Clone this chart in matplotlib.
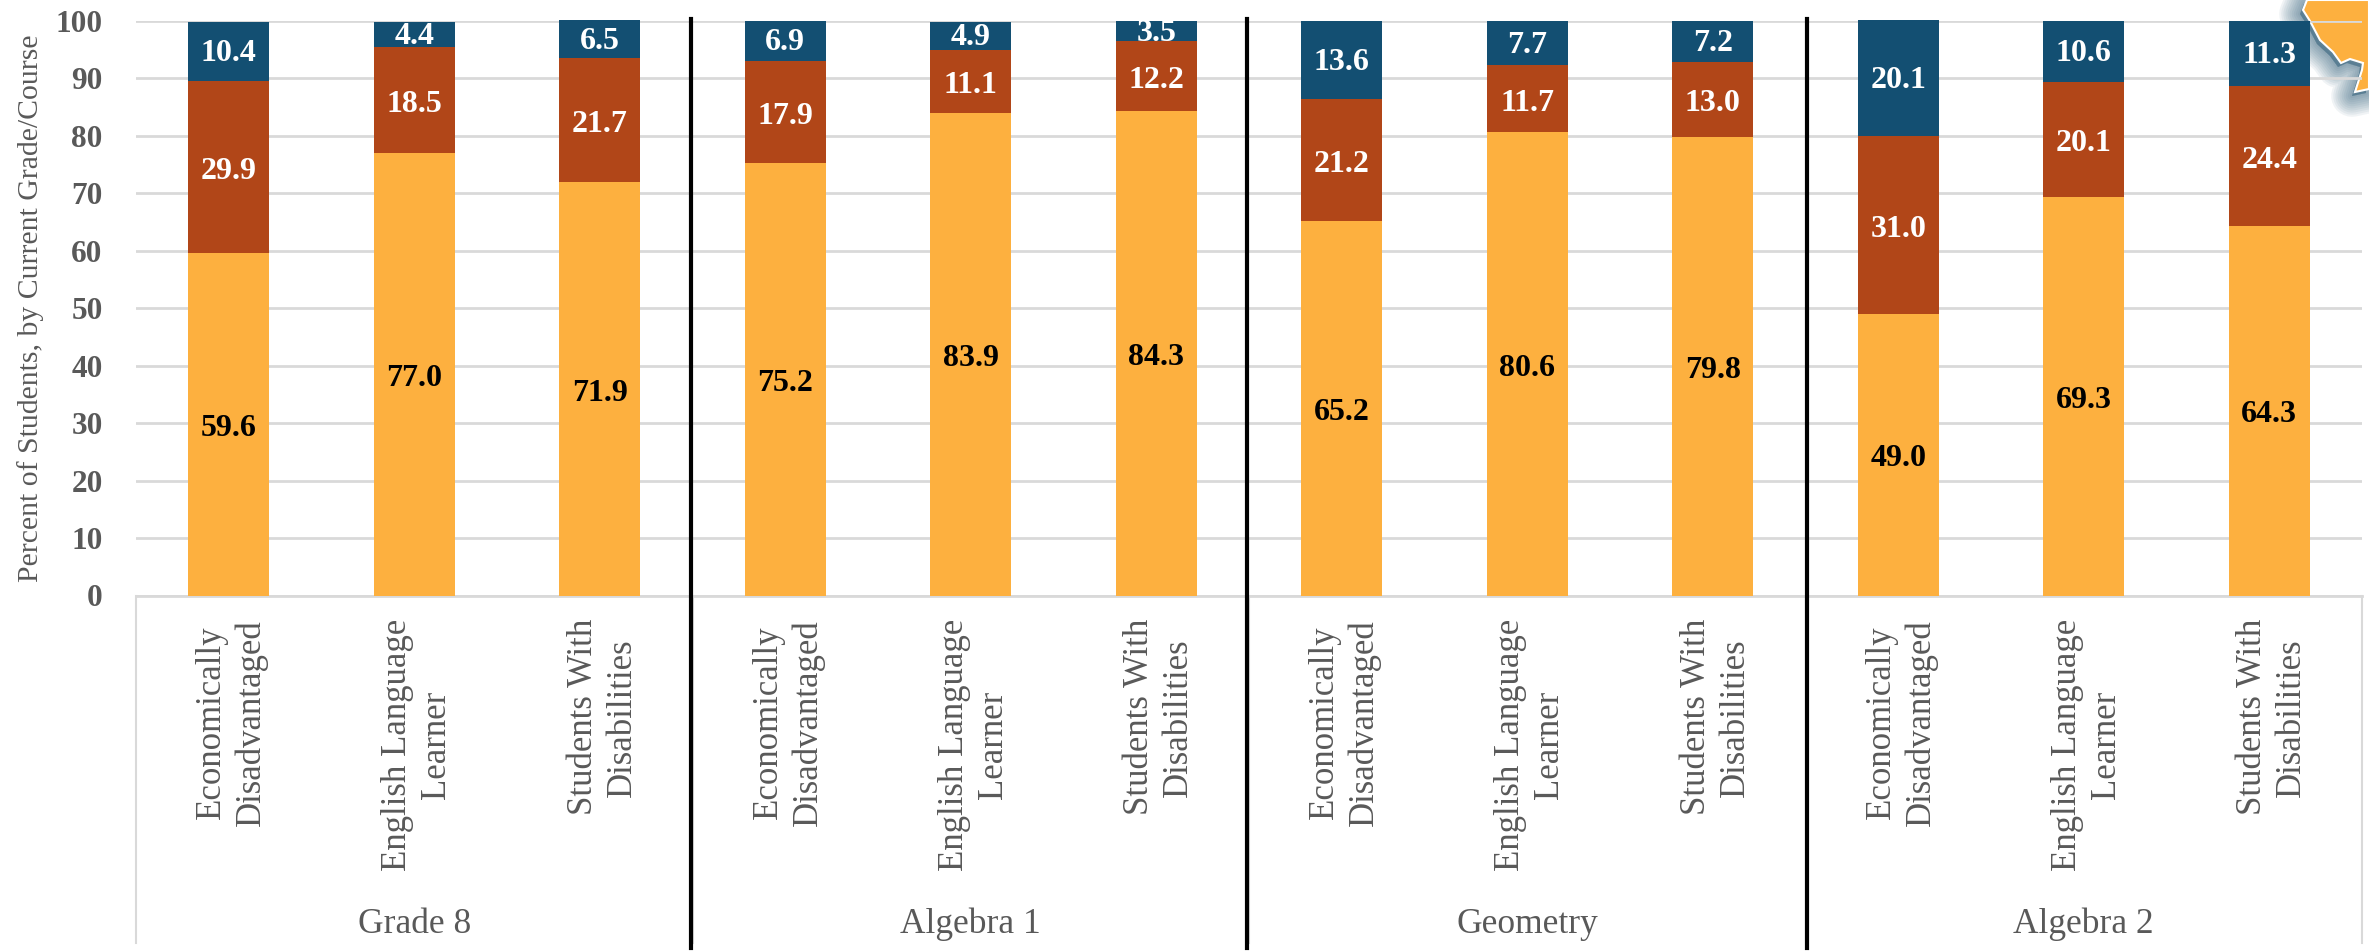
import matplotlib
matplotlib.use("Agg")
import matplotlib.pyplot as plt
from matplotlib.patches import Polygon
from matplotlib.transforms import ScaledTranslation
import numpy as np

plt.rcParams["font.family"] = "Liberation Serif"

groups = ["Grade 8", "Algebra 1", "Geometry", "Algebra 2"]
subgroups = ["Economically\nDisadvantaged", "English Language\nLearner", "Students With\nDisabilities"]

bottom_vals = [59.6, 77.0, 71.9, 75.2, 83.9, 84.3, 65.2, 80.6, 79.8, 49.0, 69.3, 64.3]
middle_vals = [29.9, 18.5, 21.7, 17.9, 11.1, 12.2, 21.2, 11.7, 13.0, 31.0, 20.1, 24.4]
top_vals = [10.4, 4.4, 6.5, 6.9, 4.9, 3.5, 13.6, 7.7, 7.2, 20.1, 10.6, 11.3]

ORANGE = "#FDB03F"
BROWN = "#B14618"
BLUE = "#134F72"
GREY = "#595959"
LIGHT = "#D9D9D9"

W, H = 2369, 952
fig = plt.figure(figsize=(W / 100, H / 100), dpi=100)
ax = fig.add_axes([136 / W, 1 - 595.5 / H, (2362 - 136) / W, (595.5 - 21) / H])
ax.patch.set_visible(False)

x = np.arange(12)
labels = subgroups * 4

bars1 = ax.bar(x, bottom_vals, 0.435, color=ORANGE, zorder=3)
bars2 = ax.bar(x, middle_vals, 0.435, bottom=bottom_vals, color=BROWN, zorder=3)
base = np.array(bottom_vals) + np.array(middle_vals)
bars3 = ax.bar(x, top_vals, 0.435, bottom=base, color=BLUE, zorder=3, clip_on=False)

for bars, col, shift in [(bars1, "black", -3.0), (bars2, "white", -3.0), (bars3, "white", -1.5)]:
    for t in ax.bar_label(bars, fmt="%.1f", label_type="center", color=col, fontsize=23,
                          fontweight="bold", zorder=5):
        t.xyann = (0, shift)

ax.set_xlim(-0.5, 11.5)
ax.set_ylim(0, 100)
ax.set_yticks(range(0, 101, 10))
ax.tick_params(axis="y", length=0, pad=24, labelsize=22.5, labelcolor=GREY)
for t in ax.get_yticklabels():
    t.set_fontweight("bold")
ax.grid(axis="y", color=LIGHT, linewidth=2, zorder=0)
ax.set_axisbelow(True)

ax.set_xticks(x)
ax.set_xticklabels(labels, rotation=90, va="top", ha="center", multialignment="center",
                   fontsize=25, color=GREY, linespacing=1.25)
ax.tick_params(axis="x", length=0, pad=17)
# nudge the wrapped labels a little to the right
nudge = ScaledTranslation(3 / 100, 0, fig.dpi_scale_trans)
for t in ax.get_xticklabels():
    t.set_transform(t.get_transform() + nudge)

for s in ["top", "right", "left"]:
    ax.spines[s].set_visible(False)
ax.spines["bottom"].set_color(LIGHT)
ax.spines["bottom"].set_linewidth(2)

fig.text(31 / W, 1 - 308 / H, "Percent of Students, by Current Grade/Course", rotation=90,
         ha="center", va="center", fontsize=21.4, color=GREY)

# multi-level axis: group names and the thin and heavy dividers
trans = ax.get_xaxis_transform()
for i, g in enumerate(groups):
    ax.text(3 * i + 1, -0.572, g, transform=trans, ha="center", va="center", fontsize=25.5, color=GREY)
for pos in [-0.5, 2.5, 5.5, 8.5, 11.5]:
    ax.plot([pos, pos], [0, -0.605], transform=trans, color=LIGHT, lw=1.5, clip_on=False, zorder=1)
for pos in [2.49, 5.487, 8.508]:
    ax.plot([pos, pos], [1.003, -0.614], transform=trans, color="black", lw=3, clip_on=False, zorder=6)

# corner of the map graphic, top right, sits behind the axes
outline = [(2307, 0), (2303, 10), (2310, 21), (2320, 40), (2333, 52), (2341, 63), (2350, 59),
           (2363, 63), (2362, 70), (2355, 92), (2369, 89), (2369, 0)]
pts = [(px / W, 1 - py / H) for px, py in outline]
shadow = [((px - 3) / W, 1 - (py + 4) / H) for px, py in outline]
for lw in range(30, 0, -3):
    fig.add_artist(Polygon(shadow, closed=True, transform=fig.transFigure, facecolor="#2F5F7A", alpha=0.07,
                           edgecolor="#2F5F7A", lw=lw, joinstyle="round", zorder=-2))
fig.add_artist(Polygon(pts, closed=True, transform=fig.transFigure, facecolor=ORANGE, edgecolor="white",
                       lw=1.5, zorder=-1))

fig.savefig("out.png", dpi=100)
